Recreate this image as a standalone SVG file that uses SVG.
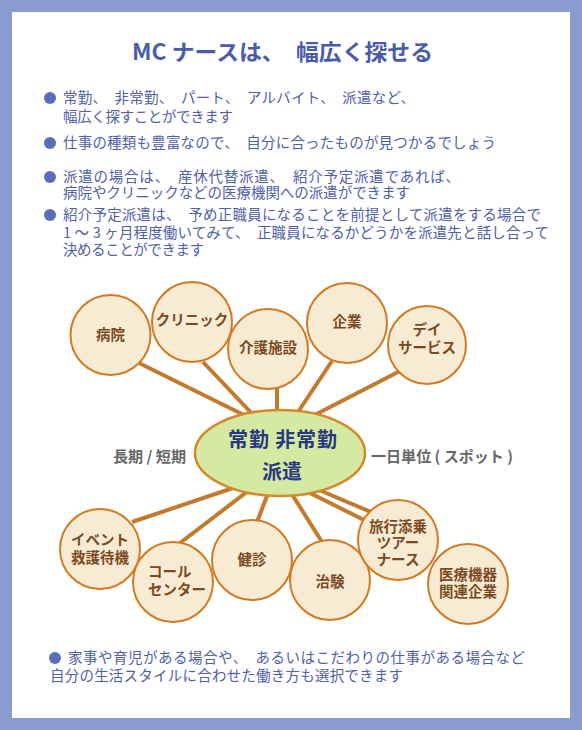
<svg xmlns="http://www.w3.org/2000/svg" width="582" height="730" viewBox="0 0 582 730">
<style>
.jp{font-family:"Noto Sans CJK JP","Noto Sans",sans-serif}
.title{font-size:22px;font-weight:bold;fill:#4a5ca8}
.b{font-size:14.5px;fill:#4f60a6}
.dot{fill:#5a6db8}
.node circle{fill:#f8ebd3;stroke:#d27a22;stroke-width:2}
.node text{font-size:14.5px;font-weight:bold;fill:#7b4a1f;text-anchor:middle}
.gray{font-size:15px;font-weight:bold;fill:#666666}
.hub text{font-size:20px;font-weight:bold;fill:#283880;text-anchor:middle}
#connectors line{stroke:#c27a2e;stroke-width:4;stroke-linecap:butt}
</style>
<rect x="0" y="0" width="582" height="730" fill="#8a9ccf"/>
<rect x="12" y="12" width="558" height="706" fill="#ffffff"/>

<g id="title"><text class="jp title" x="132" y="60" textLength="301" lengthAdjust="spacingAndGlyphs">MC ナースは、　幅広く探せる</text></g>

<g id="bullets" class="jp">
<circle class="dot" cx="50" cy="98" r="6"/>
<text class="b" x="63" y="103" textLength="352" lengthAdjust="spacing">常勤、　非常勤、　パート、　アルバイト、　派遣など、</text>
<text class="b" x="63" y="122" textLength="170" lengthAdjust="spacing">幅広く探すことができます</text>
<circle class="dot" cx="50" cy="143" r="6"/>
<text class="b" x="63" y="148" textLength="433" lengthAdjust="spacing">仕事の種類も豊富なので、　自分に合ったものが見つかるでしょう</text>
<circle class="dot" cx="50" cy="177" r="6"/>
<text class="b" x="63" y="182" textLength="397" lengthAdjust="spacing">派遣の場合は、　産休代替派遣、　紹介予定派遣であれば、</text>
<text class="b" x="63" y="198" textLength="347" lengthAdjust="spacing">病院やクリニックなどの医療機関への派遣ができます</text>
<circle class="dot" cx="50" cy="215" r="6"/>
<text class="b" x="63" y="220" textLength="478" lengthAdjust="spacing">紹介予定派遣は、　予め正職員になることを前提として派遣をする場合で</text>
<text class="b" x="63" y="238" textLength="486" lengthAdjust="spacing">1 〜 3 ヶ月程度働いてみて、　正職員になるかどうかを派遣先と話し合って</text>
<text class="b" x="63" y="255" textLength="141" lengthAdjust="spacing">決めることができます</text>
</g>

<g id="connectors">
<line x1="139" y1="363" x2="250" y2="418"/>
<line x1="203" y1="362" x2="256" y2="418"/>
<line x1="277" y1="385" x2="277" y2="418"/>
<line x1="332" y1="361" x2="294" y2="418"/>
<line x1="400" y1="371" x2="305" y2="420"/>
<line x1="132" y1="522" x2="242" y2="485"/>
<line x1="180" y1="543" x2="252" y2="488"/>
<line x1="257" y1="522" x2="270" y2="488"/>
<line x1="322" y1="542" x2="288" y2="488"/>
<line x1="305" y1="484" x2="378" y2="515"/>
<line x1="300" y1="488" x2="372" y2="524"/>
</g>

<g id="hub" class="hub jp">
<ellipse cx="280" cy="453" rx="85" ry="43" fill="#d5e9a3" stroke="#d4882a" stroke-width="2.5"/>
<text x="282.5" y="447" textLength="109" lengthAdjust="spacing">常勤 非常勤</text>
<text x="282" y="479">派遣</text>
</g>

<g id="label-long" class="jp"><text class="gray" x="113" y="462" textLength="73" lengthAdjust="spacingAndGlyphs">長期 / 短期</text></g>
<g id="label-spot" class="jp"><text class="gray" x="371" y="462" textLength="142" lengthAdjust="spacingAndGlyphs">一日単位 ( スポット )</text></g>

<g id="n-byoin" class="node jp"><circle cx="110.5" cy="335" r="40"/><text x="110.5" y="340">病院</text></g>
<g id="n-clinic" class="node jp"><circle cx="192" cy="322" r="40"/><text x="192" y="325">クリニック</text></g>
<g id="n-kaigo" class="node jp"><circle cx="268" cy="349" r="40"/><text x="268" y="353">介護施設</text></g>
<g id="n-kigyo" class="node jp"><circle cx="347" cy="323" r="40"/><text x="347" y="327">企業</text></g>
<g id="n-day" class="node jp"><circle cx="427" cy="345" r="39"/><text x="427" y="335">デイ</text><text x="427" y="353">サービス</text></g>
<g id="n-event" class="node jp"><circle cx="100" cy="549" r="40"/><text x="100" y="545">イベント</text><text x="100" y="563">救護待機</text></g>
<g id="n-call" class="node jp"><circle cx="173" cy="582" r="40"/><text x="148" y="577" style="text-anchor:start">コール</text><text x="148" y="595" style="text-anchor:start">センター</text></g>
<g id="n-kenshin" class="node jp"><circle cx="252" cy="560" r="40"/><text x="252" y="565">健診</text></g>
<g id="n-chiken" class="node jp"><circle cx="330" cy="580" r="40"/><text x="330" y="587">治験</text></g>
<g id="n-tour" class="node jp"><circle cx="398" cy="540" r="40"/><text x="398" y="532">旅行添乗</text><text x="398" y="548">ツアー</text><text x="398" y="565">ナース</text></g>
<g id="n-iryo" class="node jp"><circle cx="468" cy="584" r="40"/><text x="468" y="580">医療機器</text><text x="468" y="597">関連企業</text></g>

<g id="footer" class="jp">
<circle class="dot" cx="55" cy="658" r="6"/>
<text class="b" x="68" y="663" textLength="457" lengthAdjust="spacing">家事や育児がある場合や、　あるいはこだわりの仕事がある場合など</text>
<text class="b" x="50" y="681" textLength="353" lengthAdjust="spacing">自分の生活スタイルに合わせた働き方も選択できます</text>
</g>
</svg>
